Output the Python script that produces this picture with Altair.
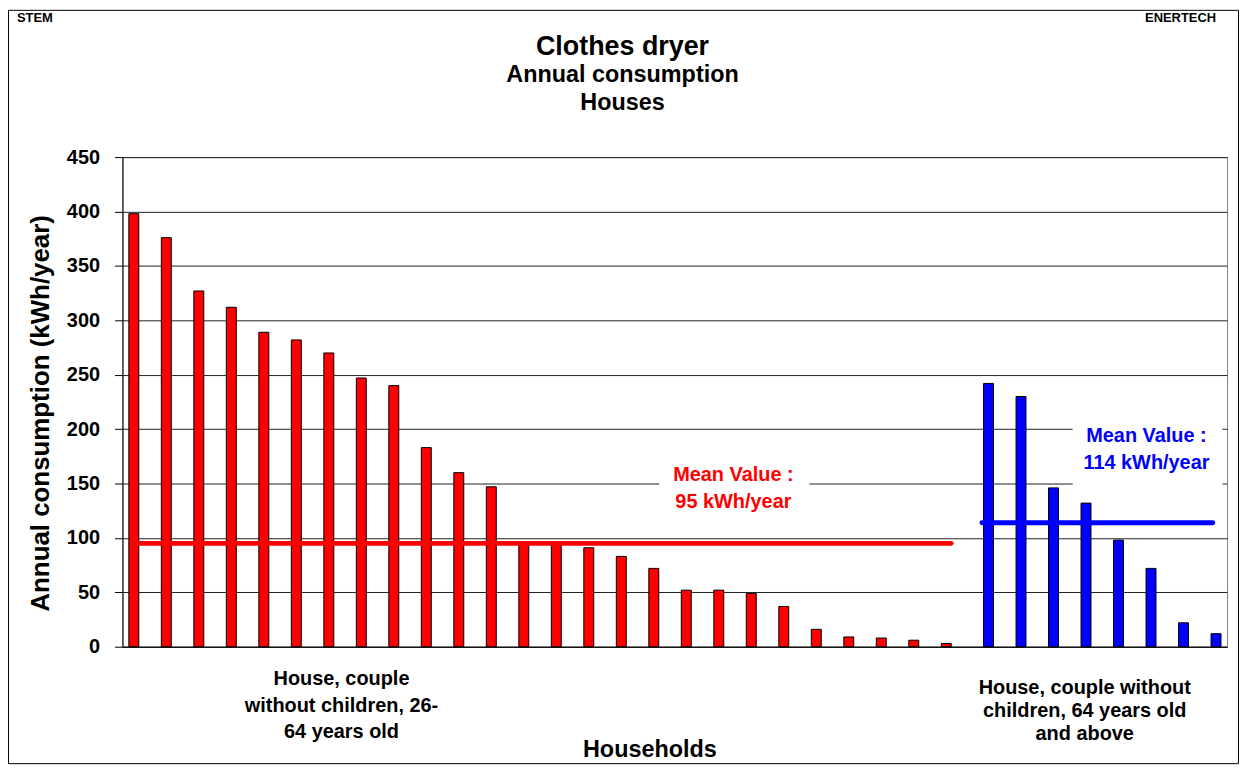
import altair as alt
import pandas as pd

# ---------------- data ----------------
RED_VALUES = [398, 376, 327, 312, 289, 282, 270, 247, 240, 183, 160, 147, 96, 95,
              91, 83, 72, 52, 52, 49, 37, 16, 9, 8, 6, 3]
BLUE_VALUES = [242, 230, 146, 132, 98, 72, 22, 12]
GROUPS = ["House, couple without children, 26-64 years old",
          "House, couple without children, 64 years old and above"]
GROUP_COLORS = ["#FF0000", "#0000FF"]
MEAN_VALUES = [95, 114]
MEAN_SPANS = [(1.15, 26.15), (27.1, 34.2)]
BLUE_OFFSET = 0.3
GROUP_LABEL_LINES = [["House, couple", "without children, 26-", "64 years old"],
                     ["House, couple without", "children, 64 years old", "and above"]]
TITLE_LINES = ["Clothes dryer", "Annual consumption", "Houses"]

FONT = "Liberation Sans"

# ---------------- tables ----------------
bars = []
for i, v in enumerate(RED_VALUES):
    bars.append({"pos": i + 1, "value": v, "group": GROUPS[0]})
for j, v in enumerate(BLUE_VALUES):
    bars.append({"pos": len(RED_VALUES) + j + 1 + BLUE_OFFSET, "value": v, "group": GROUPS[1]})
bars_df = pd.DataFrame(bars)

means_df = pd.DataFrame({
    "group": GROUPS,
    "mean": MEAN_VALUES,
    "x0": [s[0] for s in MEAN_SPANS],
    "x1": [s[1] for s in MEAN_SPANS],
})

# label anchors (x index, first baseline value, line step in value units)
MEAN_LABEL_POS = [(19.45, 152.1, 24.3), (32.16, 188.1, 24.4)]
BOXES = [(17.17, 21.79, 118, 175), (29.89, 34.5, 140, 220)]
GROUP_LABEL_POS = [(7.39, -35.4, 24.4), (30.26, -43.0, 21.4)]

mean_lbl = []
for g, m, (px, py, step) in zip(GROUPS, MEAN_VALUES, MEAN_LABEL_POS):
    for k, t in enumerate(["Mean Value :", f"{m} kWh/year"]):
        mean_lbl.append({"group": g, "t": t, "x": px, "y": py - k * step})
mean_lbl_df = pd.DataFrame(mean_lbl)

boxes_df = pd.DataFrame([{"x0": b[0], "x1": b[1], "y0": b[2], "y1": b[3]} for b in BOXES])

grp_lbl = []
for lines, (px, py, step) in zip(GROUP_LABEL_LINES, GROUP_LABEL_POS):
    for k, t in enumerate(lines):
        grp_lbl.append({"t": t, "x": px, "y": py - k * step})
grp_lbl_df = pd.DataFrame(grp_lbl)

# ---------------- encodings ----------------
XSCALE = alt.Scale(domain=[0.65, 34.64], nice=False, zero=False, padding=0)
YSCALE = alt.Scale(domain=[0, 450], nice=False, padding=0)

X_AXIS = alt.Axis(title="Households", labels=False, ticks=False, grid=False,
                  domainColor="black", domainWidth=1,
                  titleFont=FONT, titleFontSize=23.5, titleFontWeight="bold", titleColor="black",
                  titleX=529.5, titleY=110.3, titleBaseline="alphabetic", titleAlign="center")
Y_AXIS = alt.Axis(title="Annual consumption (kWh/year)", values=list(range(0, 451, 50)),
                  titleFont=FONT, titleFontSize=26, titleFontWeight="bold", titleColor="black",
                  titlePadding=13, titleY=257,
                  labelFont=FONT, labelFontSize=20, labelFontWeight="bold", labelColor="black",
                  labelPadding=15, tickSize=8, tickColor="black", domainColor="black",
                  gridColor="#222222", gridWidth=1)


def X(f):
    return alt.X(f"{f}:Q", scale=XSCALE, axis=X_AXIS)


def Y(f):
    return alt.Y(f"{f}:Q", scale=YSCALE, axis=Y_AXIS)


COLOR = alt.Color("group:N", scale=alt.Scale(domain=GROUPS, range=GROUP_COLORS), legend=None)

boxes = alt.Chart(boxes_df).mark_rect(fill="white", stroke=None).encode(
    x=X("x0"), x2="x1", y=Y("y0"), y2="y1")

bar_layer = alt.Chart(bars_df).mark_bar(size=10, stroke="black", strokeWidth=1).encode(
    x=X("pos"), y=Y("value"), color=COLOR)

mean_rules = alt.Chart(means_df).mark_rule(strokeWidth=5, strokeCap="round").encode(
    x=X("x0"), x2="x1", y=Y("mean"), color=COLOR)

mean_text = alt.Chart(mean_lbl_df).mark_text(
    font=FONT, fontSize=20, fontWeight="bold", align="center", baseline="alphabetic").encode(
    x=X("x"), y=Y("y"), text="t:N", color=COLOR)

group_text = alt.Chart(grp_lbl_df).mark_text(
    font=FONT, fontSize=20, fontWeight="bold", align="center", baseline="alphabetic",
    color="black").encode(x=X("x"), y=Y("y"), text="t:N")

frame_df = pd.DataFrame({"t": ["STEM", "ENERTECH"] + TITLE_LINES})


def frame_text(text, x, y, size, align):
    return alt.Chart(frame_df[frame_df.t == text]).mark_text(
        font=FONT, fontSize=size, fontWeight="bold", align=align, baseline="alphabetic",
        color="black").encode(x=alt.value(x), y=alt.value(y), text="t:N")


titles = [
    frame_text(TITLE_LINES[0], 502.5, -102.7, 27, "center"),
    frame_text(TITLE_LINES[1], 502.5, -75, 23.5, "center"),
    frame_text(TITLE_LINES[2], 502.5, -47.7, 23.5, "center"),
    frame_text("STEM", -106, -136, 13, "left"),
    frame_text("ENERTECH", 1099, -136, 13, "right"),
]

border = alt.Chart(frame_df.head(1)).mark_rect(fillOpacity=0, stroke="black", strokeWidth=1).encode(
    x=alt.value(-114.5), x2=alt.value(1121.5), y=alt.value(-147.5), y2=alt.value(609.5))

chart = alt.layer(boxes, bar_layer, mean_rules, mean_text, group_text, border, *titles).properties(
    width=1110, height=492,
    autosize=alt.AutoSizeParams(type="none"),
    padding={"left": 115, "top": 148, "right": 12, "bottom": 118},
    background="white",
).configure_view(stroke="#808080", strokeWidth=1)

chart.save("out.html", embed_options={"renderer": "svg", "actions": False})
